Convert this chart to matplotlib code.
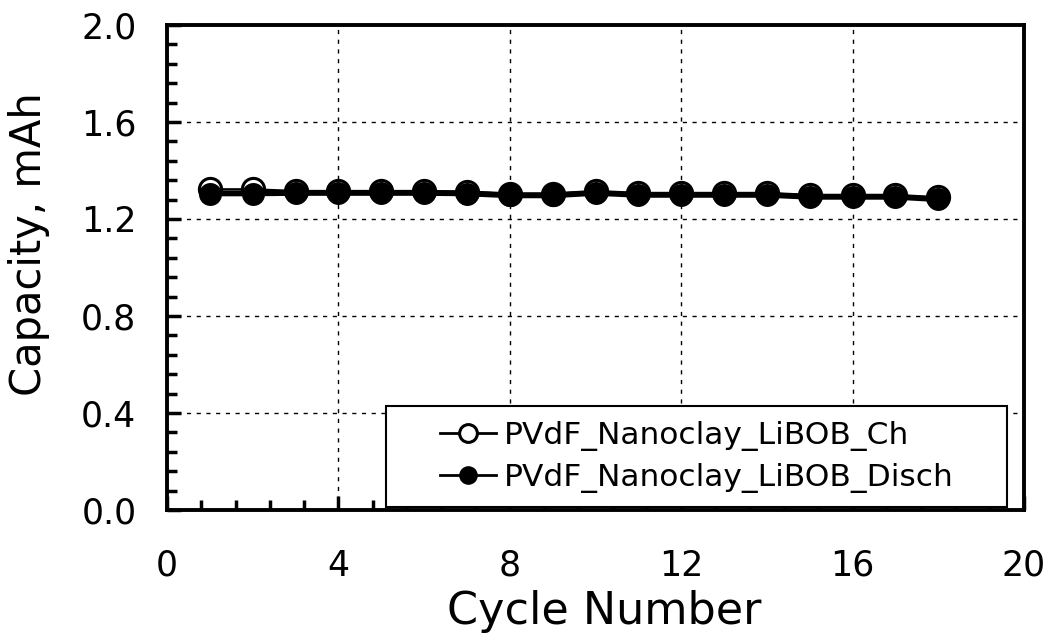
import matplotlib
matplotlib.use("Agg")
import matplotlib.pyplot as plt
from matplotlib.patches import Rectangle
from matplotlib.ticker import MultipleLocator, FormatStrFormatter

cycles = list(range(1, 19))
charge = [1.322, 1.322, 1.315, 1.315, 1.315, 1.315, 1.313, 1.305, 1.305,
          1.315, 1.307, 1.307, 1.307, 1.307, 1.299, 1.299, 1.299, 1.289]
discharge = [1.305, 1.305, 1.307, 1.307, 1.307, 1.307, 1.305, 1.297, 1.297,
             1.307, 1.299, 1.299, 1.299, 1.299, 1.291, 1.291, 1.291, 1.281]
label_ch = "PVdF_Nanoclay_LiBOB_Ch"
label_dis = "PVdF_Nanoclay_LiBOB_Disch"
xticks = [0, 4, 8, 12, 16, 20]
yticks = [0.0, 0.4, 0.8, 1.2, 1.6, 2.0]

plt.rcParams['font.family'] = ['DejaVu Sans']

fig = plt.figure(figsize=(10.56, 6.43), dpi=100)
ax = fig.add_axes([167/1056, 1 - 510/643, (1024 - 167)/1056, (510 - 25)/643])

ms = 16
ax.plot(cycles, charge, color='black', lw=1.8, marker='o', ms=ms,
        mfc='white', mec='black', mew=2.2, label=label_ch, zorder=3)
ax.plot(cycles, discharge, color='black', lw=4, marker='o', ms=ms - 0.5,
        mfc='black', mec='black', mew=1.0, label=label_dis, zorder=3.5)

ax.set_xlim(0, 20)
ax.set_ylim(0, 2.0)
ax.set_xticks(xticks)
ax.set_yticks(yticks)
ax.xaxis.set_minor_locator(MultipleLocator(0.8))
ax.yaxis.set_minor_locator(MultipleLocator(0.08))
ax.yaxis.set_major_formatter(FormatStrFormatter('%.1f'))

ax.tick_params(which='both', direction='in', top=False, right=False,
               width=2.5, color='black')
ax.tick_params(which='major', length=10)
ax.tick_params(which='minor', length=7)
ax.tick_params(axis='y', which='major', labelsize=25, pad=22)
ax.tick_params(axis='x', which='major', labelsize=25, pad=28)

for s in ax.spines.values():
    s.set_linewidth(2.8)
    s.set_color('black')

ax.grid(True, which='major', color='black', lw=1.0, ls=(0, (3, 4)))
ax.set_axisbelow(True)

ax.set_xlabel("Cycle Number", fontsize=32)
ax.set_ylabel("Capacity, mAh", fontsize=30)
ax.xaxis.set_label_coords(0.51, -0.165)
ax.yaxis.set_label_coords(-0.137, 0.548)

leg = ax.legend(loc='lower right', bbox_to_anchor=(0.934, 0.006),
                fontsize=22.5, frameon=False, handlelength=1.8,
                markerscale=0.8, borderpad=0.45, labelspacing=0.4,
                handletextpad=0.25, borderaxespad=0.0)
leg.set_zorder(5)
for line in leg.get_lines():
    line.set_linewidth(2.0)

# legend frame: legend extent widened horizontally
fig.canvas.draw()
bb = leg.get_window_extent()
extra = 40
frame = Rectangle((bb.x0 - extra, bb.y0), bb.width + 2 * extra, bb.height,
                  transform=None, facecolor='white', edgecolor='black',
                  lw=1.5, zorder=4.9, clip_on=False)
ax.add_patch(frame)

fig.savefig("out.png", dpi=100)
